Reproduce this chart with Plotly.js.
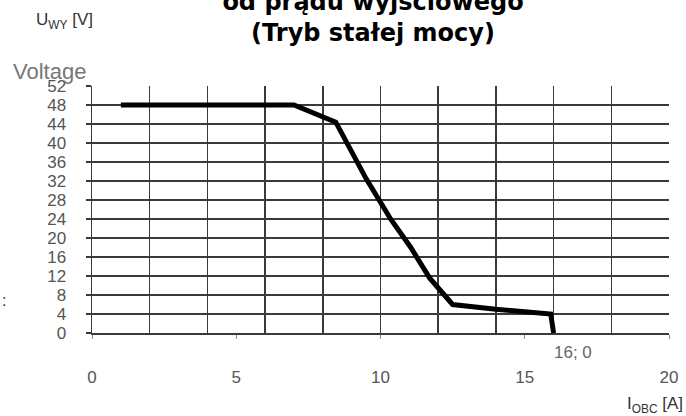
<!DOCTYPE html>
<html>
<head>
<meta charset="utf-8">
<script src="https://cdn.plot.ly/plotly-3.0.1.min.js"></script>
<style>html,body{margin:0;padding:0;background:#fff;}#chart{width:686px;height:416px;}</style>
</head>
<body>
<div id="chart"></div>
<script>
// Output current [A]
const current = [1, 7, 8.45, 8.8, 9.0, 9.5, 10.35, 11.05, 11.7, 12.5, 14.0, 15.9, 16.0];
// Output voltage [V]
const voltage = [48, 48, 44.4, 40.5, 38, 32.5, 24, 18, 11.6, 6, 5, 4, 0];
const yTicks = [0, 4, 8, 12, 16, 20, 24, 28, 32, 36, 40, 44, 48, 52];
const xTicks = [0, 5, 10, 15, 20];
const titleLines = ["od prądu wyjściowego", "(Tryb stałej mocy)"];

const W = 686, H = 416;
const m = {l: 92, r: 17, t: 86, b: 83};
const ph = H - m.t - m.b;
const py = (px) => (H - m.b - px) / ph;      // pixel row -> paper y
const pw = W - m.l - m.r;
const pxp = (px) => (px - m.l) / pw;         // pixel col -> paper x

const trace = {
  x: current, y: voltage, type: 'scatter', mode: 'lines',
  line: {color: '#000', width: 5, shape: 'linear'},
  hoverinfo: 'none', showlegend: false
};

const gridCol = '#3a3a3a';
const layout = {
  width: W, height: H,
  margin: m,
  paper_bgcolor: '#fff', plot_bgcolor: '#fff',
  title: {
    text: titleLines.join('<br>'),
    font: {family: 'DejaVu Sans', size: 24, color: '#000', weight: 'bold'},
    x: 373 / W, xanchor: 'center',
    yref: 'container', y: 1 - 10 / H, yanchor: 'bottom'
  },
  xaxis: {
    range: [0, 20], tickvals: xTicks, ticktext: xTicks.map(String),
    showgrid: false, zeroline: false,
    showline: true, linecolor: gridCol, linewidth: 1.5,
    ticks: 'outside', ticklen: 4, tickcolor: '#888', tickwidth: 1,
    ticklabelstandoff: 24,
    tickfont: {family: 'Liberation Sans Narrow, Liberation Sans', size: 17, color: '#555'},
    minor: {dtick: 2, tick0: 0, showgrid: true, gridcolor: gridCol, gridwidth: 1.5, ticks: ''},
    fixedrange: true
  },
  yaxis: {
    range: [0, 52], tickvals: yTicks, ticktext: yTicks.map(String),
    showgrid: true, gridcolor: gridCol, gridwidth: 2, zeroline: false,
    showline: true, linecolor: gridCol, linewidth: 1.5,
    ticks: 'outside', ticklen: 5, tickcolor: gridCol, tickwidth: 2,
    ticklabelstandoff: 16,
    tickfont: {family: 'Liberation Sans Narrow, Liberation Sans', size: 17, color: '#555'},
    fixedrange: true
  },
  annotations: [
    {text: 'U<sub>WY</sub> [V]', xref: 'paper', yref: 'paper', x: pxp(34), y: py(21),
     xanchor: 'left', yanchor: 'middle', showarrow: false,
     font: {family: 'Liberation Sans', size: 17, color: '#333'}},
    {text: 'Voltage', xref: 'paper', yref: 'paper', x: pxp(11), y: py(72),
     xanchor: 'left', yanchor: 'middle', showarrow: false,
     font: {family: 'Liberation Sans', size: 22, color: '#777'}},
    {text: '16; 0', xref: 'paper', yref: 'paper', x: pxp(552), y: py(352),
     xanchor: 'left', yanchor: 'middle', showarrow: false,
     font: {family: 'Liberation Sans Narrow, Liberation Sans', size: 17, color: '#666'}},
    {text: 'I<sub>OBC</sub> [A]', xref: 'paper', yref: 'paper', x: pxp(685), y: py(405),
     xanchor: 'right', yanchor: 'middle', showarrow: false,
     font: {family: 'Liberation Sans', size: 17, color: '#333'}},
    {text: ':', xref: 'paper', yref: 'paper', x: pxp(0), y: py(300),
     xanchor: 'left', yanchor: 'middle', showarrow: false,
     font: {family: 'Liberation Sans', size: 16, color: '#333'}}
  ]
};

Plotly.newPlot('chart', [trace], layout, {displayModeBar: false, staticPlot: true});
</script>
</body>
</html>
